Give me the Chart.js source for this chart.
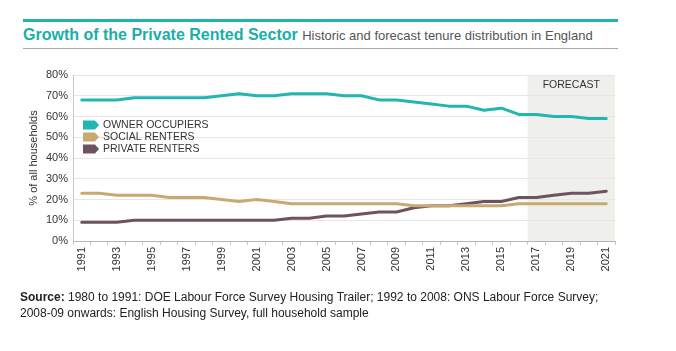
<!DOCTYPE html>
<html>
<head>
<meta charset="utf-8">
<script src="https://cdn.jsdelivr.net/npm/chart.js@4"></script>
<style>
  body { margin: 0; background: #fff; font-family: "Liberation Sans", Arial, sans-serif; }
  #wrap { position: relative; width: 676px; height: 351px; overflow: hidden; }
  #topbar { position: absolute; left: 23px; top: 19px; width: 595px; height: 3px; background: #1fb5b0; }
  #title { position: absolute; left: 23px; top: 26px; white-space: nowrap; }
  #title b { color: #1aaea8; font-size: 16px; }
  #title span { color: #555; font-size: 13px; }
  #rule { position: absolute; left: 23px; top: 48px; width: 595px; height: 1px; background: #aaa; }
  #source { position: absolute; left: 20px; top: 289px; font-size: 12px; line-height: 16px; color: #222; white-space: nowrap; }
  canvas { position: absolute; left: 0; top: 0; }
</style>
</head>
<body>
<div id="wrap">
  <div id="topbar"></div>
  <div id="title"><b>Growth of the Private Rented Sector</b> <span>Historic and forecast tenure distribution in England</span></div>
  <div id="rule"></div>
  <canvas id="chart" width="676" height="351"></canvas>
  <div id="source"><b>Source:</b> 1980 to 1991: DOE Labour Force Survey Housing Trailer; 1992 to 2008: ONS Labour Force Survey;<br>2008-09 onwards: English Housing Survey, full household sample</div>
</div>
<script>
// Years on the x axis
const years = ['1991', '1992', '1993', '1994', '1995', '1996', '1997', '1998', '1999', '2000',
    '2001', '2002', '2003', '2004', '2005', '2006', '2007', '2008', '2009', '2010',
    '2011', '2012', '2013', '2014', '2015', '2016', '2017', '2018', '2019', '2020', '2021'];

// Tenure shares (% of all households)
const ownerOccupiers = [68, 68, 68, 69, 69, 69, 69, 69, 70, 71, 70, 70, 71, 71, 71, 70,
    70, 68, 68, 67, 66, 65, 65, 63, 64, 61, 61, 60, 60, 59, 59];
const socialRenters = [23, 23, 22, 22, 22, 21, 21, 21, 20, 19, 20, 19, 18, 18, 18, 18,
    18, 18, 18, 17, 17, 17, 17, 17, 17, 18, 18, 18, 18, 18, 18];
const privateRenters = [9, 9, 9, 10, 10, 10, 10, 10, 10, 10, 10, 10, 11, 11, 12, 12,
    13, 14, 14, 16, 17, 17, 18, 19, 19, 21, 21, 22, 23, 23, 24];

const seriesNames = ['OWNER OCCUPIERS', 'SOCIAL RENTERS', 'PRIVATE RENTERS'];
const seriesColors = ['#22b6b0', '#c9a972', '#6d5262'];
const yTicks = [0, 10, 20, 30, 40, 50, 60, 70, 80];
const forecastFrom = '2017';

// shaded forecast band + label
const forecastBand = {
    id: 'forecastBand',
    beforeDraw(chart) {
        const { ctx, chartArea, scales } = chart;
        const i = years.indexOf(forecastFrom);
        const x0 = (scales.x.getPixelForValue(i - 1) + scales.x.getPixelForValue(i)) / 2;
        ctx.save();
        ctx.fillStyle = '#efefeb';
        ctx.fillRect(x0, chartArea.top, chartArea.right - x0, chartArea.bottom - chartArea.top);
        ctx.fillStyle = '#333';
        ctx.font = '10.5px "Liberation Sans", Arial, sans-serif';
        ctx.textAlign = 'center';
        ctx.textBaseline = 'middle';
        ctx.fillText('FORECAST', (x0 + chartArea.right) / 2, chartArea.top + 10);
        ctx.restore();
    }
};

// legend with arrow-shaped swatches inside the plot
const arrowLegend = {
    id: 'arrowLegend',
    afterDatasetsDraw(chart) {
        const { ctx, chartArea } = chart;
        const x = chartArea.left + 10;
        ctx.save();
        ctx.font = '10.5px "Liberation Sans", Arial, sans-serif';
        ctx.textBaseline = 'middle';
        chart.data.datasets.forEach((ds, k) => {
            const y = chartArea.top + 50 + k * 12;
            ctx.fillStyle = ds.borderColor;
            ctx.beginPath();
            ctx.moveTo(x, y - 4.5);
            ctx.lineTo(x + 12, y - 4.5);
            ctx.lineTo(x + 16, y);
            ctx.lineTo(x + 12, y + 4.5);
            ctx.lineTo(x, y + 4.5);
            ctx.closePath();
            ctx.fill();
            ctx.fillStyle = '#333';
            ctx.fillText(ds.label, x + 20, y + 0.5);
        });
        ctx.restore();
    }
};

const makeSet = (label, data, color) => ({
    label: label,
    data: data,
    borderColor: color,
    backgroundColor: color,
    borderWidth: 3,
    pointRadius: 0,
    tension: 0,
    borderJoinStyle: 'round',
    borderCapStyle: 'round'
});

const ctx = document.getElementById('chart').getContext('2d');
const chart = new Chart(ctx, {
    type: 'line',
    data: {
        labels: years,
        datasets: [
            makeSet(seriesNames[0], ownerOccupiers, seriesColors[0]),
            makeSet(seriesNames[1], socialRenters, seriesColors[1]),
            makeSet(seriesNames[2], privateRenters, seriesColors[2])
        ]
    },
    options: {
        responsive: false,
        animation: false,
        layout: { padding: { left: 27, top: 75, right: 61, bottom: 70 } },
        plugins: {
            legend: { display: false },
            tooltip: { enabled: false }
        },
        scales: {
            x: {
                type: 'category',
                offset: true,
                grid: { offset: true, drawOnChartArea: false, tickLength: 4, color: '#c8c8c8' },
                border: { display: true, color: '#b5b5b5' },
                ticks: {
                    autoSkip: false,
                    minRotation: 90,
                    maxRotation: 90,
                    padding: 2,
                    color: '#333',
                    font: { family: '"Liberation Sans", Arial, sans-serif', size: 11 },
                    callback: (v, i) => (i % 2 === 0 ? years[i] : '')
                },
                afterFit: s => { s.height = 40; }
            },
            y: {
                min: 0,
                max: 80,
                afterBuildTicks: s => { s.ticks = yTicks.map(v => ({ value: v })); },
                grid: { color: '#e6e6e6', drawTicks: false },
                border: { display: true, color: '#c8c8c8' },
                ticks: {
                    padding: 5,
                    color: '#333',
                    font: { family: '"Liberation Sans", Arial, sans-serif', size: 11 },
                    callback: v => v + '%'
                },
                title: {
                    display: true,
                    text: '% of all households',
                    color: '#333',
                    padding: 0,
                    font: { family: '"Liberation Sans", Arial, sans-serif', size: 11 }
                },
                afterFit: s => { s.width = 46; }
            }
        }
    },
    plugins: [forecastBand, arrowLegend]
});
</script>
</body>
</html>
